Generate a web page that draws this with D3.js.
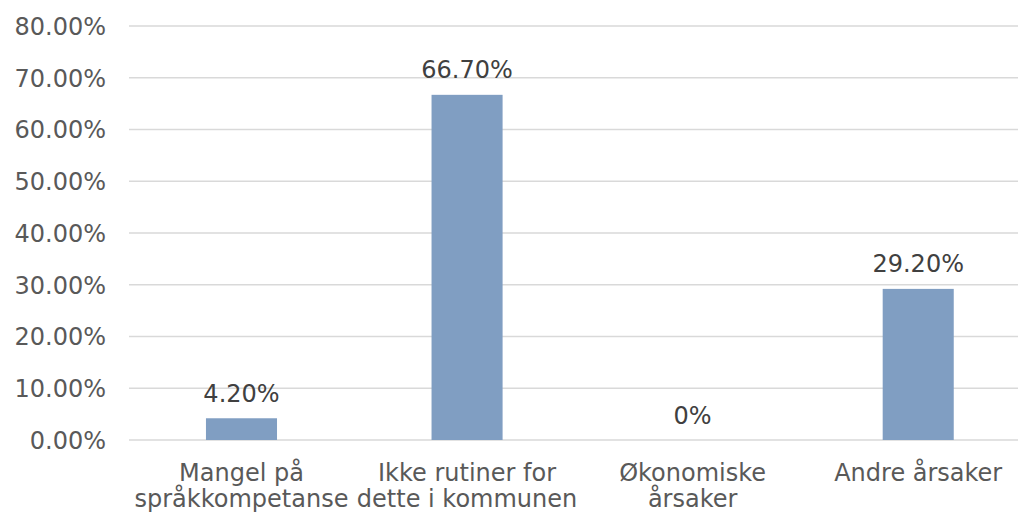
<!DOCTYPE html>
<html><head><meta charset="utf-8">
<script src="https://cdn.jsdelivr.net/npm/d3@7"></script>
<style>body{margin:0;background:#fff}svg{display:block}</style>
</head><body>
<svg id="c" width="1018" height="512"></svg>
<script>
const categories = [["Mangel på","språkkompetanse"],["Ikke rutiner for","dette i kommunen"],["Økonomiske","årsaker"],["Andre årsaker"]];
const values = [4.2, 66.7, 0, 29.2];
const valueLabels = ["4.20%","66.70%","0%","29.20%"];
const yTicks = [0,10,20,30,40,50,60,70,80];

const svg = d3.select("#c");
const font = "'DejaVu Sans', Verdana, sans-serif";
const x = d3.scaleBand().domain(d3.range(categories.length)).range([128.7, 1031]).paddingInner(0.685).paddingOuter(0.3425);
const y = d3.scaleLinear().domain([0,80]).range([440,26]);

// gridlines
svg.append("g").selectAll("line").data(yTicks).join("line")
  .attr("x1",129).attr("x2",1031)
  .attr("y1",d=>y(d)).attr("y2",d=>y(d))
  .attr("stroke","#d9d9d9").attr("stroke-width",1.5);

// y axis labels
const yAxis = d3.axisLeft(y).tickValues(yTicks).tickSize(0).tickPadding(0).tickFormat(d=>d.toFixed(2)+"%");
const ga = svg.append("g").attr("transform","translate(106,0)").call(yAxis);
ga.select(".domain").remove();
ga.selectAll("text").attr("font-family",font).attr("font-size",24).attr("fill","#595959").attr("dy","0.35em");

// bars
svg.append("g").selectAll("rect").data(values).join("rect")
  .attr("x",(d,i)=>x(i)).attr("width",x.bandwidth())
  .attr("y",d=>y(d)).attr("height",d=>y(0)-y(d))
  .attr("fill","#809ec2");

// value labels
svg.append("g").selectAll("text").data(values).join("text")
  .attr("x",(d,i)=>x(i)+x.bandwidth()/2).attr("y",d=>y(d)-16.5)
  .attr("text-anchor","middle").attr("font-family",font).attr("font-size",24).attr("fill","#404040")
  .text((d,i)=>valueLabels[i]);

// category labels
const cg = svg.append("g").selectAll("text").data(categories).join("text")
  .attr("x",(d,i)=>x(i)+x.bandwidth()/2).attr("y",481)
  .attr("text-anchor","middle").attr("font-family",font).attr("font-size",24).attr("fill","#595959");
cg.each(function(d,i){
  const t=d3.select(this);
  d.forEach((line,j)=>t.append("tspan").attr("x",x(i)+x.bandwidth()/2).attr("y",481+26*j).text(line));
});
</script>
</body></html>
